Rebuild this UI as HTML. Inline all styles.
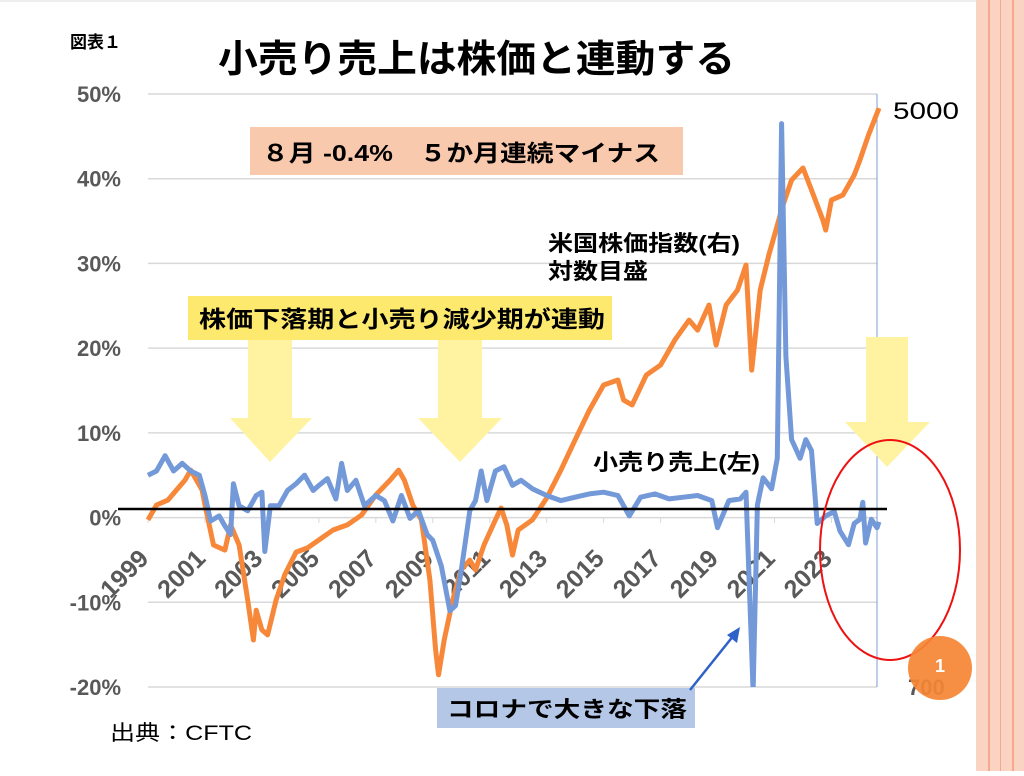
<!DOCTYPE html>
<html><head><meta charset="utf-8">
<style>
html,body{margin:0;padding:0;background:#fff;}
body{width:1024px;height:771px;overflow:hidden;position:relative;font-family:"Liberation Sans","Noto Sans CJK JP",sans-serif;}
svg text{font-family:"Liberation Sans","Noto Sans CJK JP",sans-serif;}
</style></head>
<body>
<svg id="chart" width="1024" height="771" viewBox="0 0 1024 771">
  <g>
    <rect x="976" y="0" width="48" height="771" fill="#fbd3c2"/>
    <rect x="988" y="0" width="2" height="771" fill="#f4a98c"/>
    <rect x="1000" y="0" width="1" height="771" fill="#f4a98c"/>
    <rect x="1012" y="0" width="2" height="771" fill="#f4a98c"/>
  </g>
  <rect x="0" y="0" width="976" height="2" fill="#eee"/>
  <text x="70" y="48" font-size="17" font-weight="bold">図表１</text>
  <text x="218" y="72" font-size="38" font-weight="bold" textLength="517" lengthAdjust="spacingAndGlyphs">小売り売上は株価と連動する</text>
  <g id="grid"></g>
  <g id="yticks"></g>
  <g id="xticks"></g>
  <line x1="877" y1="94" x2="877" y2="687" stroke="#7b9bd6" stroke-width="1"/>
  <g fill="#fff2a0">
    <polygon points="248,338 292,338 292,418 312,418 270,462 230,418 248,418"/>
    <polygon points="438,338 482,338 482,418 502,418 460,462 418,418 438,418"/>
    <polygon points="866,337 908,337 908,422 930,422 887,467 845,422 866,422"/>
  </g>
  <g id="series"></g>
  <line x1="118" y1="509" x2="887" y2="509" stroke="#000" stroke-width="2.5"/>
  <rect x="250" y="127" width="433" height="48" fill="#f9c9ad"/>
  <text x="262" y="161" font-size="23" font-weight="bold" textLength="398" lengthAdjust="spacingAndGlyphs">８月 -0.4%　５か月連続マイナス</text>
  <rect x="188" y="296" width="424" height="44" fill="#fde96e"/>
  <text x="199" y="327" font-size="23" font-weight="bold" textLength="406" lengthAdjust="spacingAndGlyphs">株価下落期と小売り減少期が連動</text>
  <text x="548" y="251" font-size="22" font-weight="bold" textLength="192" lengthAdjust="spacingAndGlyphs">米国株価指数(右)</text>
  <text x="548" y="279" font-size="22" font-weight="bold" textLength="100" lengthAdjust="spacingAndGlyphs">対数目盛</text>
  <text x="593" y="470" font-size="22" font-weight="bold" textLength="167" lengthAdjust="spacingAndGlyphs">小売り売上(左)</text>
  <text x="893" y="119" font-size="24" textLength="66" lengthAdjust="spacingAndGlyphs">5000</text>
  <text x="908" y="695" font-size="22" font-weight="bold" fill="#595959">700</text>
  <ellipse cx="890" cy="550" rx="70" ry="110" fill="none" stroke="#ee1111" stroke-width="2"/>
  <circle cx="940" cy="668" r="32" fill="#f58634" fill-opacity="0.92"/>
  <text x="940" y="672" font-size="18" font-weight="bold" fill="#fff" text-anchor="middle">1</text>
  <rect x="437" y="688" width="258" height="40" fill="#b4c7e7"/>
  <text x="447" y="717" font-size="22" font-weight="bold" textLength="240" lengthAdjust="spacingAndGlyphs">コロナで大きな下落</text>
  <line x1="690" y1="690" x2="734" y2="635" stroke="#2e62c9" stroke-width="2.5"/>
  <polygon points="740,627 737,643 727,635" fill="#2e62c9"/>
  <text x="110" y="740" font-size="21" textLength="142" lengthAdjust="spacingAndGlyphs">出典：CFTC</text>
</svg>
<script>
const leftTicks = [50, 40, 30, 20, 10, 0, -10, -20];
const yearLabels = [1999,2001,2003,2005,2007,2009,2011,2013,2015,2017,2019,2021,2023];
const retailYears = [1999.0,1999.3,1999.6,1999.9,2000.2,2000.5,2000.8,2001.0,2001.2,2001.5,2001.7,2001.9,2002.0,2002.2,2002.5,2002.8,2003.0,2003.1,2003.3,2003.6,2003.9,2004.2,2004.5,2004.8,2005.0,2005.3,2005.6,2005.8,2006.0,2006.3,2006.6,2007.0,2007.3,2007.6,2007.9,2008.2,2008.5,2008.8,2009.0,2009.3,2009.6,2009.8,2010.0,2010.3,2010.5,2010.7,2010.9,2011.2,2011.5,2011.8,2012.1,2012.5,2013.0,2013.5,2014.0,2014.5,2015.0,2015.5,2015.9,2016.3,2016.8,2017.3,2017.8,2018.3,2018.8,2019.0,2019.4,2019.8,2020.0,2020.25,2020.4,2020.6,2020.9,2021.1,2021.25,2021.4,2021.6,2021.9,2022.1,2022.3,2022.5,2022.8,2023.1,2023.3,2023.6,2023.8,2024.0,2024.1,2024.2,2024.4,2024.6,2024.67];
const retailValues = [5.0,5.5,7.3,5.5,6.4,5.5,5.0,2.6,-0.4,0.2,-1.0,-2.0,4.0,1.4,0.8,2.6,3.0,-4.0,1.4,1.4,3.2,4.0,5.0,3.2,3.8,4.6,2.2,6.4,3.2,4.4,1.4,2.6,2.0,-0.4,2.6,-0.1,0.8,-2.0,-2.7,-5.7,-11.0,-10.4,-6.3,0.8,2.0,5.5,2.0,5.5,6.0,3.8,4.4,3.4,2.6,2.0,2.4,2.8,3.0,2.6,0.2,2.4,2.8,2.2,2.4,2.6,2.0,-1.2,2.0,2.2,3.0,-20.5,1.5,4.7,3.4,7.0,46.5,19.0,9.2,7.0,9.2,7.9,-0.7,0.2,0.7,-1.6,-3.2,-0.7,-0.2,1.8,-3.0,-0.2,-1.2,-0.5];
const stockYears = [1999.0,1999.3,1999.7,2000.0,2000.3,2000.5,2000.9,2001.0,2001.3,2001.7,2001.9,2002.2,2002.5,2002.7,2002.8,2003.0,2003.2,2003.5,2003.8,2004.2,2004.6,2005.0,2005.5,2006.0,2006.5,2007.0,2007.5,2007.8,2008.0,2008.3,2008.6,2008.9,2009.1,2009.2,2009.4,2009.7,2010.0,2010.3,2010.5,2010.8,2011.2,2011.4,2011.6,2011.8,2012.0,2012.5,2013.0,2013.5,2014.0,2014.5,2015.0,2015.5,2015.7,2016.0,2016.5,2017.0,2017.5,2018.0,2018.3,2018.7,2018.95,2019.3,2019.7,2020.0,2020.2,2020.5,2020.8,2021.0,2021.3,2021.6,2022.0,2022.3,2022.7,2022.8,2023.0,2023.4,2023.8,2024.0,2024.3,2024.67];
const stockValues = [1218,1280,1301,1345,1390,1437,1345,1280,1121,1102,1198,1121,934,818,903,846,832,934,1015,1095,1110,1140,1178,1198,1238,1323,1390,1437,1390,1280,1218,998,792,729,818,934,1032,1066,1032,1121,1218,1267,1198,1084,1178,1218,1310,1437,1588,1753,1905,1937,1812,1783,1969,2036,2211,2363,2286,2484,2175,2484,2610,2836,2002,2610,2931,3132,3460,3759,3912,3637,3291,3184,3517,3576,3821,4016,4364,4771];

const svg = document.getElementById('chart');
const NS = 'http://www.w3.org/2000/svg';
const X0 = 148, X1 = 877, T0 = 1999.0, T1 = 2024.6;
const YT = 94, YB = 687;
function xScale(t){ return X0 + (t - T0) / (T1 - T0) * (X1 - X0); }
function yLeft(p){ return YB - (p - (-20)) / 70 * (YB - YT); }
function yRight(v){ return YB - Math.log(v / 700) / Math.log(5000 / 700) * (YB - YT); }

const grid = document.getElementById('grid');
const yt = document.getElementById('yticks');
leftTicks.forEach(v => {
  const y = yLeft(v);
  const l = document.createElementNS(NS, 'line');
  
  
  l.setAttribute('x1', X0); l.setAttribute('x2', X1);
  l.setAttribute('y1', y); l.setAttribute('y2', y);
  l.setAttribute('stroke', '#d9d9d9'); l.setAttribute('stroke-width', '1.5');
  grid.appendChild(l);
  const t = document.createElementNS(NS, 'text');
  
  
  t.setAttribute('x', 121); t.setAttribute('y', y + 8);
  t.setAttribute('text-anchor', 'end');
  t.setAttribute('font-size', '22'); t.setAttribute('font-weight', 'bold');
  t.setAttribute('fill', '#595959');
  t.textContent = v + '%';
  yt.appendChild(t);
});

const xt = document.getElementById('xticks');
yearLabels.forEach(yr => {
  const x = xScale(yr);
  const tk = document.createElementNS(NS, 'line');
  
  
  tk.setAttribute('x1', x); tk.setAttribute('x2', x);
  tk.setAttribute('y1', 517); tk.setAttribute('y2', 523);
  tk.setAttribute('stroke', '#d9d9d9');
  xt.appendChild(tk);
  const ax = x + 2, ay = 560;
  const t = document.createElementNS(NS, 'text');
  
  
  t.setAttribute('x', ax); t.setAttribute('y', ay);
  t.setAttribute('text-anchor', 'end');
  t.setAttribute('font-size', '25'); t.setAttribute('font-weight', 'bold');
  t.setAttribute('fill', '#595959');
  t.setAttribute('transform', 'rotate(-45 ' + ax + ' ' + ay + ')');
  t.textContent = yr;
  xt.appendChild(t);
});

const series = document.getElementById('series');
function path(xs, ys, color, name){
  let d = '';
  xs.forEach((t, i) => { d += (i ? 'L' : 'M') + xScale(t).toFixed(1) + ',' + ys[i].toFixed(1); });
  const p = document.createElementNS(NS, 'path');
  
  
  p.setAttribute('d', d);
  p.setAttribute('fill', 'none'); p.setAttribute('stroke', color);
  p.setAttribute('stroke-width', '5'); p.setAttribute('stroke-linejoin', 'round');
  series.appendChild(p);
}
const clip = document.createElementNS(NS, 'clipPath');
clip.setAttribute('id', 'plotclip');
const cr = document.createElementNS(NS, 'rect');
cr.setAttribute('x', 140); cr.setAttribute('y', 90); cr.setAttribute('width', 745); cr.setAttribute('height', 597);
clip.appendChild(cr);
svg.appendChild(clip);
series.setAttribute('clip-path', 'url(#plotclip)');
path(stockYears, stockValues.map(yRight), '#f7883a', 'stock-index-line');
path(retailYears, retailValues.map(yLeft), '#7399d8', 'retail-sales-line');
</script>
</body></html>
